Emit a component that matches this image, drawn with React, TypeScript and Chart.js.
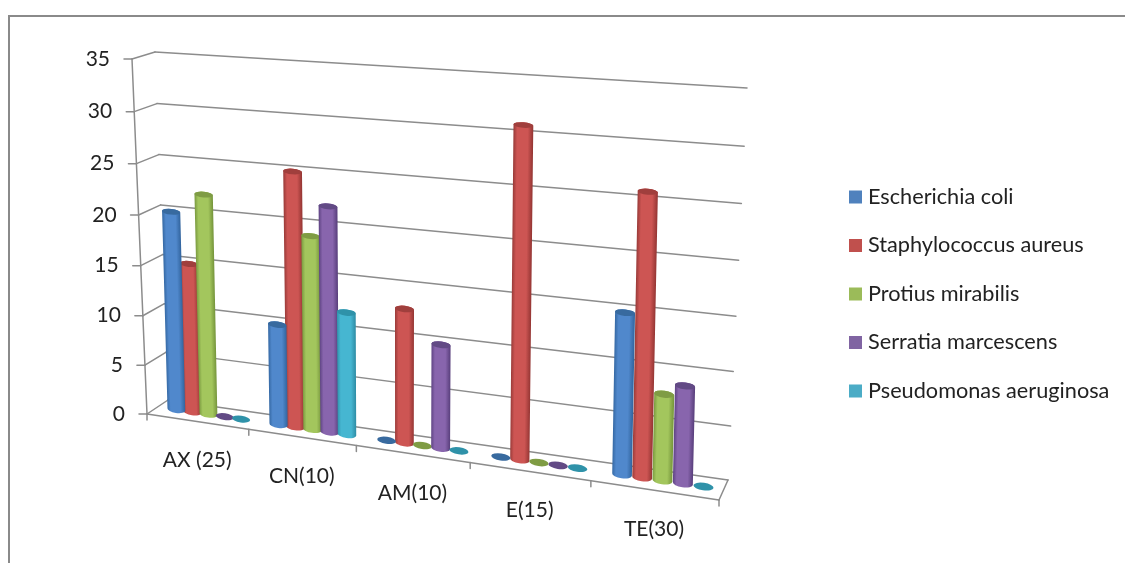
import React, { useEffect, useRef } from "react";
import { Chart, registerables } from "chart.js";

Chart.register(...registerables);

const categories = ["AX (25)", "CN(10)", "AM(10)", "E(15)", "TE(30)"];
const escherichiaColi = [20, 10, 0, 0, 15];
const staphylococcusAureus = [15, 25, 13, 31, 26];
const protiusMirabilis = [22, 19, 0, 0, 8];
const serratiaMarcescens = [0, 22, 10, 0, 9];
const pseudomonasAeruginosa = [0, 12, 0, 0, 0];
const yTicks = { min: 0, max: 35, stepSize: 5 };

const FONT = "Lato";
const TEXT = "#222222";
const GRID = "#8c8c8c";

type Pt = { x: number; y: number };
const lerp = (a: Pt, b: Pt, k: number): Pt => ({ x: a.x + (b.x - a.x) * k, y: a.y + (b.y - a.y) * k });

// Corners of the perspective box
const FL0 = { x: 147, y: 414 };
const FR0 = { x: 719, y: 500 };
const BL0 = { x: 168, y: 400 };
const BR0 = { x: 728, y: 480 };
const FL1 = { x: 132, y: 59 };
const FR1 = { x: 738, y: 100 };
const BL1 = { x: 155, y: 52 };
const BR1 = { x: 747, y: 88 };
const PX = 0.866;
const PY = 0.957;
const DRAW_ORDER = [1, 2, 3, 4, 0];

function project(u: number, d: number, n: number): Pt {
  const t = (PX * u) / (1 - (1 - PX) * u);
  const nw = (n * PY) / (1 + (PY - 1) * n);
  const bottom = lerp(lerp(FL0, FR0, t), lerp(BL0, BR0, t), d);
  const top = lerp(lerp(FL1, FR1, t), lerp(BL1, BR1, t), d);
  return lerp(bottom, top, nw);
}

function barPoint(u: number, n: number): Pt {
  const p = project(u, 0.5, n);
  const b = project(u, 0.5, 0);
  const lean = 0.72 - 0.2 * u;
  return { x: b.x + (p.x - b.x) * lean + 1 + 2.5 * u, y: p.y };
}

const shades: Record<string, { dark: string; light: string; cap: string; edge: string }> = {
  "#4F81BD": { dark: "#32659f", light: "#5088cc", cap: "#386a9f", edge: "#2f619a" },
  "#C0504D": { dark: "#943836", light: "#cd5553", cap: "#a03f3d", edge: "#903331" },
  "#9BBB59": { dark: "#76963d", light: "#a3c65d", cap: "#7f9c44", edge: "#719038" },
  "#8064A2": { dark: "#5a407f", light: "#8865ad", cap: "#624a85", edge: "#543b77" },
  "#4BACC6": { dark: "#2e8fa8", light: "#46b6d1", cap: "#2f92a9", edge: "#2b88a0" },
};

function drawCylinder(ctx: CanvasRenderingContext2D, uL: number, uR: number, n: number, color: string) {
  const s = shades[color];
  const uC = (uL + uR) / 2;
  const bL = barPoint(uL, 0);
  const bR = barPoint(uR, 0);
  const bC = barPoint(uC, 0);
  const tL = barPoint(uL, n);
  const tR = barPoint(uR, n);
  const tC = barPoint(uC, n);
  const rxB = Math.hypot(bR.x - bL.x, bR.y - bL.y) / 2;
  const rxT = Math.hypot(tR.x - tL.x, tR.y - tL.y) / 2;
  const rotB = Math.atan2(bR.y - bL.y, bR.x - bL.x);
  const rotT = Math.atan2(tR.y - tL.y, tR.x - tL.x);
  const ryB = rxB * 0.37;
  const ryT = rxT * (0.37 - 0.1 * n);

  if (n <= 0) {
    ctx.fillStyle = s.cap;
    ctx.beginPath();
    ctx.ellipse(bC.x, bC.y, rxB, ryB, rotB, 0, Math.PI * 2);
    ctx.fill();
    return;
  }
  ctx.save();
  ctx.beginPath();
  ctx.moveTo(tL.x, tL.y);
  ctx.lineTo(bL.x, bL.y);
  ctx.ellipse(bC.x, bC.y, rxB, ryB, rotB, Math.PI, 0, true);
  ctx.lineTo(tR.x, tR.y);
  ctx.ellipse(tC.x, tC.y, rxT, ryT, rotT, 0, Math.PI, true);
  ctx.closePath();
  ctx.clip();
  // shade follows the lean of the bar
  const k = (tC.x - bC.x) / (tC.y - bC.y);
  ctx.transform(1, 0, k, 1, -k * bC.y, 0);
  const g = ctx.createLinearGradient(bL.x - 0.5, 0, bR.x + 0.5, 0);
  g.addColorStop(0, s.dark);
  g.addColorStop(0.2, s.light);
  g.addColorStop(0.72, s.light);
  g.addColorStop(1, s.edge);
  ctx.fillStyle = g;
  ctx.fillRect(bL.x - 40, Math.min(tC.y, bC.y) - 20, bR.x - bL.x + 80, Math.abs(bC.y - tC.y) + 40);
  ctx.restore();
  ctx.fillStyle = s.cap;
  ctx.beginPath();
  ctx.ellipse(tC.x, tC.y, rxT, ryT, rotT, 0, Math.PI * 2);
  ctx.fill();
}

const perspectivePlugin = {
  id: "perspective",
  afterLayout(chart: any) {
    const lg = chart.legend;
    if (!lg) return;
    const pad = lg.options.labels.padding;
    const h = lg.bottom - lg.top;
    const w = lg.right - lg.left;
    lg.left = 853.85 - pad;
    lg.right = lg.left + w;
    lg.top = 197 - pad - 10.85;
    lg.bottom = lg.top + h;
  },
  beforeDraw(chart: any) {
    const ctx: CanvasRenderingContext2D = chart.ctx;
    ctx.save();
    ctx.strokeStyle = "#8a8a8a";
    ctx.lineWidth = 2;
    ctx.beginPath();
    ctx.moveTo(9, 563);
    ctx.lineTo(9, 16);
    ctx.lineTo(1125, 16);
    ctx.stroke();
    ctx.restore();
  },
  beforeDatasetsDraw(chart: any) {
    const ctx: CanvasRenderingContext2D = chart.ctx;
    const xs = chart.scales.x;
    const ys = chart.scales.y;
    const toU = (px: number) => (px - xs.left) / (xs.right - xs.left);
    const toN = (py: number) => (ys.bottom - py) / (ys.bottom - ys.top);
    const seg = (a: Pt, b: Pt) => {
      ctx.beginPath();
      ctx.moveTo(a.x, a.y);
      ctx.lineTo(b.x, b.y);
      ctx.stroke();
    };

    ctx.save();
    ctx.strokeStyle = GRID;
    ctx.lineWidth = 1.5;
    ctx.lineCap = "round";

    // walls and value ticks
    seg(project(0, 0, 0), project(0, 0, 1));
    ctx.fillStyle = TEXT;
    ctx.font = `21px ${FONT}`;
    ctx.textAlign = "right";
    ctx.textBaseline = "middle";
    ys.ticks.forEach((tick: any) => {
      const n = toN(ys.getPixelForValue(tick.value));
      const f = project(0, 0, n);
      const bl = project(0, 1, n);
      const br = project(1, 1, n);
      seg({ x: f.x - 8, y: f.y }, f);
      seg(f, bl);
      seg(bl, br);
      ctx.fillText(String(tick.label), f.x - 22, f.y);
    });

    // floor and category ticks
    seg(project(0, 0, 0), project(1, 0, 0));
    seg(project(1, 0, 0), project(1, 1, 0));
    const count = categories.length;
    for (let i = 0; i <= count; i++) {
      const p = project(i / count, 0, 0);
      seg(p, { x: p.x, y: p.y + 6 });
    }
    ctx.textAlign = "center";
    for (let i = 0; i < count; i++) {
      const p = project(toU(xs.getPixelForValue(i)), 0, 0);
      ctx.fillText(xs.getLabelForValue(i), p.x, p.y + 39);
    }

    // cylinders, read from the bar elements placed by the scales
    for (let c = 0; c < count; c++) {
      DRAW_ORDER.forEach((i) => {
        const ds: any = chart.data.datasets[i];
        const el = chart.getDatasetMeta(i).data[c];
        const u = toU(el.x);
        const half = (el.width / 2) * (1.12 - 0.16 * u);
        drawCylinder(ctx, toU(el.x - half), toU(el.x + half), toN(el.y), ds.backgroundColor);
      });
    }
    ctx.restore();
    return false;
  },
};

export default function App() {
  const ref = useRef<HTMLCanvasElement>(null);
  useEffect(() => {
    const chart = new Chart(ref.current as HTMLCanvasElement, {
      type: "bar",
      data: {
        labels: categories,
        datasets: [
          { label: "Escherichia coli", data: escherichiaColi, backgroundColor: "#4F81BD" },
          { label: "Staphylococcus aureus", data: staphylococcusAureus, backgroundColor: "#C0504D" },
          { label: "Protius mirabilis", data: protiusMirabilis, backgroundColor: "#9BBB59" },
          { label: "Serratia marcescens", data: serratiaMarcescens, backgroundColor: "#8064A2" },
          { label: "Pseudomonas aeruginosa", data: pseudomonasAeruginosa, backgroundColor: "#4BACC6" },
        ],
      },
      options: {
        responsive: false,
        animation: false,
        layout: { padding: { left: 147, right: 0, top: 59, bottom: 149 } },
        datasets: { bar: { barPercentage: 1, categoryPercentage: 0.8 } },
        scales: {
          x: { display: false },
          y: { display: false, min: yTicks.min, max: yTicks.max, ticks: { stepSize: yTicks.stepSize } },
        },
        plugins: {
          title: { display: false },
          tooltip: { enabled: false },
          legend: {
            display: true,
            position: "right",
            align: "start",
            labels: {
              usePointStyle: true,
              pointStyle: "rect",
              boxWidth: 3.3,
              boxHeight: 13,
              padding: 26.8,
              color: TEXT,
              font: { family: FONT, size: 21.7, lineHeight: 1 },
            },
          },
        },
      },
      plugins: [perspectivePlugin],
    } as any);
    return () => chart.destroy();
  }, []);
  return (
    <div style={{ position: "absolute", left: 0, top: 0, width: 1125, height: 563, background: "#fff" }}>
      <canvas ref={ref} width={1125} height={563} style={{ display: "block" }} />
    </div>
  );
}
